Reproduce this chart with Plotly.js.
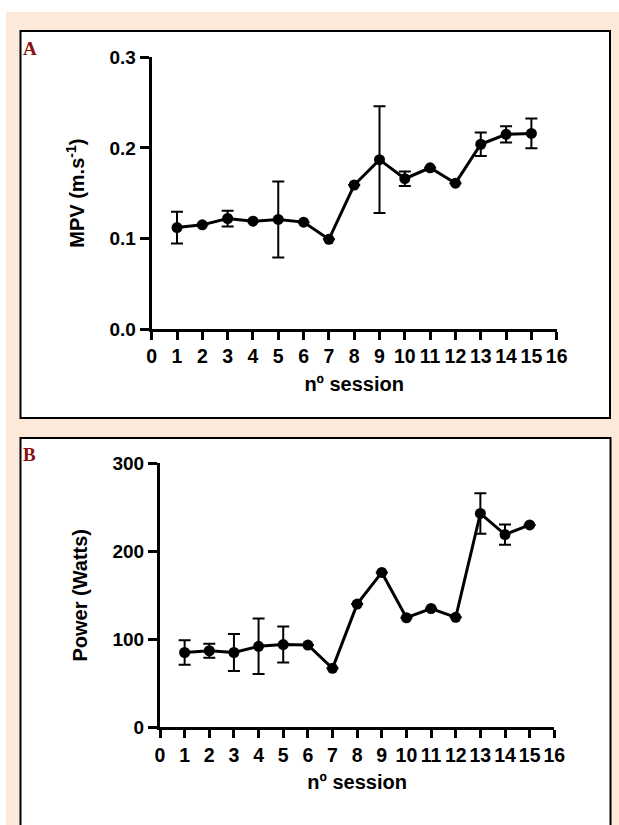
<!DOCTYPE html>
<html>
<head>
<meta charset="utf-8">
<script src="https://cdn.plot.ly/plotly-3.0.1.min.js"></script>
<style>
  html, body { margin: 0; padding: 0; background: #ffffff; }
  #chart { width: 619px; height: 825px; }
</style>
</head>
<body>
<div id="chart"></div>
<script>
// ---- data ----
const sessions = [1, 2, 3, 4, 5, 6, 7, 8, 9, 10, 11, 12, 13, 14, 15];
const mpv      = [0.112, 0.115, 0.122, 0.119, 0.121, 0.118, 0.099, 0.159, 0.187, 0.166, 0.178, 0.161, 0.204, 0.215, 0.216];
const mpvErr   = [0.0175, 0, 0.0087, 0, 0.042, 0, 0, 0, 0.059, 0.008, 0, 0, 0.013, 0.009, 0.0165];
const power    = [85, 87, 85, 92, 94, 93.5, 67, 140, 176, 124.5, 135, 125, 243, 219, 230];
const powerErr = [14, 8, 21, 31.5, 20.5, 0, 0, 0, 0, 0, 0, 0, 23, 11.5, 0];
const xTicks   = [0, 1, 2, 3, 4, 5, 6, 7, 8, 9, 10, 11, 12, 13, 14, 15, 16];
const mpvTicks = [0, 0.1, 0.2, 0.3];
const mpvTickText = ['0.0', '0.1', '0.2', '0.3'];
const powerTicks = [0, 100, 200, 300];
const xTitle = 'nº session';
const mpvTitle = 'MPV (m.s<sup>-1</sup>)';
const powerTitle = 'Power (Watts)';

// ---- helpers ----
const W = 619, H = 825;
const px = v => v / W;
const py = v => 1 - v / H;
const FONT = 'Liberation Sans, Arial, Helvetica, sans-serif';

function trace(y, err, xa, ya) {
  return {
    x: sessions, y: y, xaxis: xa, yaxis: ya,
    type: 'scatter', mode: 'lines+markers',
    line: { color: '#000000', width: 3 },
    marker: { color: '#000000', size: 11 },
    error_y: { type: 'data', array: err, visible: true, color: '#000000', thickness: 2, width: 6 },
    showlegend: false, hoverinfo: 'skip'
  };
}

function xAxis(domain, anchor) {
  return {
    domain: domain, anchor: anchor, range: [0, 16],
    tickmode: 'array', tickvals: xTicks, tickangle: 0,
    showline: true, linecolor: '#000000', linewidth: 3,
    ticks: 'outside', ticklen: 8, tickwidth: 3, tickcolor: '#000000',
    showgrid: false, zeroline: false, automargin: false,
    tickfont: { family: FONT, size: 19.5, color: '#000000', weight: 'bold' },
    title: { text: xTitle, standoff: 11, font: { family: FONT, size: 20, color: '#000000', weight: 'bold' } },
    fixedrange: true
  };
}

function yAxis(domain, anchor, range, tv, tt, title) {
  const a = {
    domain: domain, anchor: anchor, range: range,
    tickmode: 'array', tickvals: tv,
    showline: true, linecolor: '#000000', linewidth: 3,
    ticks: 'outside', ticklen: 9, tickwidth: 3, tickcolor: '#000000',
    showgrid: false, zeroline: false, automargin: false,
    tickfont: { family: FONT, size: 19, color: '#000000', weight: 'bold' },
    title: { text: title, standoff: 20, font: { family: FONT, size: 20, color: '#000000', weight: 'bold' } },
    fixedrange: true
  };
  if (tt) a.ticktext = tt;
  return a;
}

const data = [
  trace(mpv, mpvErr, 'x', 'y'),
  trace(power, powerErr, 'x2', 'y2')
];

const layout = {
  width: W, height: H,
  margin: { l: 0, r: 0, t: 0, b: 0, pad: 0 },
  paper_bgcolor: '#ffffff',
  plot_bgcolor: 'rgba(0,0,0,0)',
  xaxis: xAxis([px(151.7), px(556.7)], 'y'),
  yaxis: yAxis([py(329), py(57.3)], 'x', [0, 0.3], mpvTicks, mpvTickText, mpvTitle),
  xaxis2: xAxis([px(160), px(554.3)], 'y2'),
  yaxis2: yAxis([py(727.3), py(463.3)], 'x2', [0, 300], powerTicks, null, powerTitle),
  shapes: [
    { type: 'rect', xref: 'paper', yref: 'paper', layer: 'below',
      x0: px(6), x1: px(619), y0: py(830), y1: py(12),
      fillcolor: '#fce9da', line: { width: 0 } },
    { type: 'rect', xref: 'paper', yref: 'paper', layer: 'below',
      x0: px(20.5), x1: px(610), y0: py(418), y1: py(31),
      fillcolor: '#ffffff', line: { color: '#000000', width: 2 } },
    { type: 'rect', xref: 'paper', yref: 'paper', layer: 'below',
      x0: px(20.5), x1: px(610.5), y0: py(840), y1: py(438),
      fillcolor: '#ffffff', line: { color: '#000000', width: 2 } }
  ],
  annotations: [
    { text: 'A', xref: 'paper', yref: 'paper', x: px(20.5), y: py(48.5),
      xanchor: 'left', yanchor: 'middle', showarrow: false,
      font: { family: 'Liberation Serif, Times New Roman, serif', size: 19, color: '#8b1010', weight: 'bold' } },
    { text: 'B', xref: 'paper', yref: 'paper', x: px(21), y: py(454),
      xanchor: 'left', yanchor: 'middle', showarrow: false,
      font: { family: 'Liberation Serif, Times New Roman, serif', size: 19, color: '#8b1010', weight: 'bold' } }
  ]
};

Plotly.newPlot('chart', data, layout, { staticPlot: true, displayModeBar: false });
</script>
</body>
</html>
